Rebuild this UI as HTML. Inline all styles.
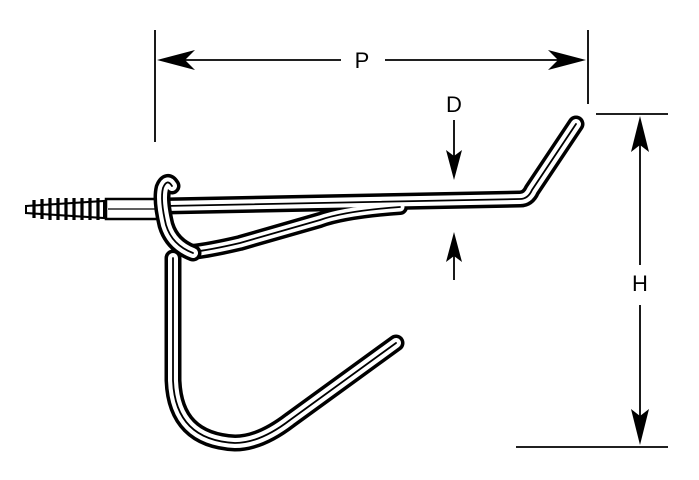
<!DOCTYPE html>
<html><head><meta charset="utf-8"><style>
html,body{margin:0;padding:0;background:#fff;}
svg{display:block;}
text{font-family:"Liberation Sans",sans-serif;font-size:22px;fill:#000;}
</style></head><body>
<svg width="699" height="480" viewBox="0 0 699 480" xmlns="http://www.w3.org/2000/svg">
<!-- dimension P -->
<line x1="155" y1="30" x2="155" y2="142" stroke="#000" stroke-width="1.8"/>
<line x1="588" y1="30" x2="588" y2="104" stroke="#000" stroke-width="1.8"/>
<line x1="180" y1="60" x2="341" y2="60" stroke="#000" stroke-width="1.8"/>
<line x1="385" y1="60" x2="565" y2="60" stroke="#000" stroke-width="1.8"/>
<polygon points="157,60 195,50 185,60 195,70" fill="#000"/>
<polygon points="586,60 548,50 558,60 548,70" fill="#000"/>
<text x="362" y="68" text-anchor="middle">P</text>
<!-- D -->
<text x="454" y="112" text-anchor="middle">D</text>
<line x1="454" y1="120" x2="454" y2="160" stroke="#000" stroke-width="1.8"/>
<polygon points="454,180 446,150 454,156 462,150" fill="#000"/>
<line x1="454" y1="250" x2="454" y2="280" stroke="#000" stroke-width="1.8"/>
<polygon points="454,232 446,262 454,256 462,262" fill="#000"/>
<!-- H -->
<line x1="596" y1="114" x2="668" y2="114" stroke="#000" stroke-width="1.8"/>
<line x1="516" y1="447" x2="668" y2="447" stroke="#000" stroke-width="1.8"/>
<line x1="640" y1="130" x2="640" y2="265" stroke="#000" stroke-width="1.8"/>
<line x1="640" y1="305" x2="640" y2="430" stroke="#000" stroke-width="1.8"/>
<polygon points="640,116 631,152 640,145 649,152" fill="#000"/>
<polygon points="640,445 631,409 640,416 649,409" fill="#000"/>
<text x="640" y="291" text-anchor="middle">H</text>
<!-- screw -->
<g stroke="#000" fill="none">
<rect x="106" y="199" width="58" height="20" stroke-width="2.5" fill="#fff"/>
<line x1="108" y1="209" x2="160" y2="209" stroke-width="1.2"/>
<path d="M26,206 L104,201 L104,218 L26,213 Z" stroke-width="2" fill="#fff"/>
<path d="M34,200v18 M42,199v20 M50,198v22 M58,198v22 M66,198v22 M74,198v22 M82,198v22 M90,198v22 M98,198v22" stroke-width="3.2"/>
</g>
<!-- wires -->
<g fill="none" stroke-linecap="round" stroke-linejoin="round">
<path d="M173,258 L173,380 Q175,440 235,443 Q260,443 290,420 L396,343" stroke="#000" stroke-width="17"/>
<path d="M173,258 L173,380 Q175,440 235,443 Q260,443 290,420 L396,343" stroke="#fff" stroke-width="10"/>
<path d="M173,258 L173,380 Q175,440 235,443 Q260,443 290,420 L396,343" stroke="#000" stroke-width="1.8"/>
<!-- lower arm -->
<path d="M192,252 Q210,250 240,243 L320,220 Q345,211 400,207" stroke="#000" stroke-width="16"/>
<!-- top rod -->
<path d="M165,206 L520,199 Q528,199 532,190 L576,124" stroke="#000" stroke-width="17"/>
<path d="M192,252 Q210,250 240,243 L320,220 Q345,211 400,207" stroke="#fff" stroke-width="9"/>
<path d="M165,206 L520,199 Q528,199 532,190 L576,124" stroke="#fff" stroke-width="10"/>
<path d="M192,252 Q210,250 240,243 L320,220 Q345,211 400,207" stroke="#000" stroke-width="1.8"/>
<path d="M165,206 L520,199 Q528,199 532,190 L576,124" stroke="#000" stroke-width="1.8"/>
<!-- loop -->
<path d="M193,253 Q172,245 166,225 Q160,200 163,188 Q167,178 172,186" stroke="#000" stroke-width="17"/>
<path d="M193,253 Q172,245 166,225 Q160,200 163,188 Q167,178 172,186" stroke="#fff" stroke-width="10"/>
<path d="M193,253 Q172,245 166,225 Q160,200 163,188 Q167,178 172,186" stroke="#000" stroke-width="1.8"/>
</g>
</svg>
</body></html>
